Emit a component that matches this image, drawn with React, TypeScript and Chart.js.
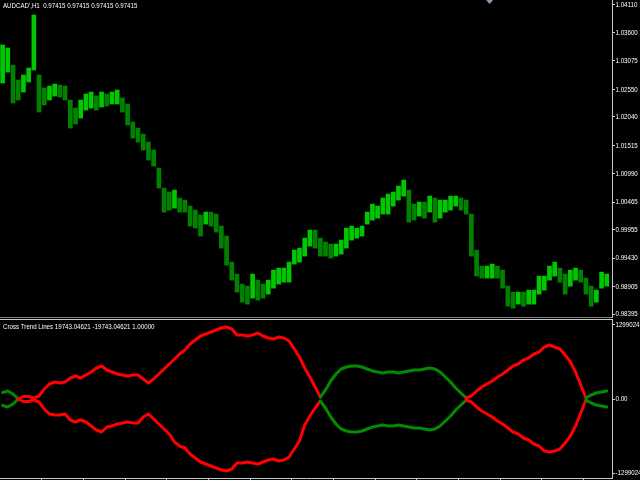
import React, { useEffect, useRef } from 'react';
import { Chart, registerables } from 'chart.js';

Chart.register(...registerables);

// ---------- data ----------
const symbolLabel = "AUDCAD',H1";
const lastQuote = ['0.97415', '0.97415', '0.97415', '0.97415'];
const indicatorName = 'Cross Trend Lines';
const indicatorReadout = ['19743.04621', '-19743.04621', '1.00000'];

// H1 bars (high / low), one per bar slot, left to right
const priceHigh = [
  1.0337, 1.03314, 1.02999, 1.02722, 1.02815, 1.02944, 1.03925, 1.02815, 1.02574, 1.02611,
  1.02648, 1.0263, 1.02611, 1.02352, 1.02204, 1.02352, 1.02463, 1.025, 1.02426, 1.025,
  1.02463, 1.025, 1.02537, 1.02389, 1.02278, 1.01945, 1.01834, 1.01723, 1.01575, 1.01427,
  1.01094, 1.00724, 1.0065, 1.00687, 1.00539, 1.00502, 1.00391, 1.00317, 1.00225, 1.0028,
  1.0028, 1.00243, 1.00021, 0.99836, 0.99355, 0.99133, 0.98948, 0.98911, 0.99133, 0.99022,
  0.98948, 0.99022, 0.99207, 0.99244, 0.99244, 0.99355, 0.99577, 0.99614, 0.99799, 0.99947,
  0.99947, 0.99799, 0.99725, 0.99688, 0.99688, 0.99762, 0.99984, 1.00021, 0.99984, 1.00021,
  1.0028, 1.00428, 1.00391, 1.00539, 1.00613, 1.0065, 1.00761, 1.00872, 1.00687, 1.00428,
  1.00465, 1.00465, 1.00576, 1.00539, 1.00502, 1.00502, 1.00576, 1.00576, 1.00539, 1.00502,
  1.00243, 0.99577, 0.99281, 0.99281, 0.99318, 0.99281, 0.99207, 0.98911, 0.988, 0.988,
  0.988, 0.98837, 0.98837, 0.99096, 0.99096, 0.99281, 0.99355, 0.99244, 0.99133, 0.99207,
  0.99244, 0.99207, 0.99059, 0.98911, 0.98837, 0.9917, 0.99133,
];
const priceLow = [
  1.02667, 1.0287, 1.02297, 1.02352, 1.025, 1.02685, 1.02907, 1.0213, 1.0226, 1.02352,
  1.02426, 1.02408, 1.02352, 1.01834, 1.01908, 1.02019, 1.02167, 1.02204, 1.02167, 1.02223,
  1.02241, 1.02278, 1.02278, 1.0213, 1.0189, 1.01649, 1.01575, 1.01427, 1.01242, 1.01131,
  1.00724, 1.0028, 1.00317, 1.00354, 1.0028, 1.0028, 1.00021, 0.99984, 0.99836, 1.00058,
  1.00021, 0.9991, 0.99614, 0.993, 0.99022, 0.988, 0.98615, 0.98578, 0.98689, 0.98652,
  0.98689, 0.98763, 0.98874, 0.98948, 0.98985, 0.98985, 0.99318, 0.99355, 0.99466, 0.99651,
  0.99614, 0.99466, 0.99466, 0.99429, 0.99466, 0.99503, 0.99614, 0.99762, 0.99799, 0.99836,
  1.00058, 1.00132, 1.00169, 1.00243, 1.00243, 1.00391, 1.00502, 1.00576, 1.00095, 1.00132,
  1.00206, 1.00169, 1.0028, 1.00095, 1.00169, 1.0028, 1.00317, 1.00391, 1.00317, 1.00243,
  0.99466, 0.99096, 0.99059, 0.99059, 0.99059, 0.99059, 0.98874, 0.98541, 0.98504, 0.98578,
  0.98541, 0.98578, 0.98578, 0.98763, 0.98837, 0.99022, 0.99096, 0.98985, 0.98763, 0.98911,
  0.99022, 0.98985, 0.98763, 0.98541, 0.98615, 0.98874, 0.98911,
];
const priceTicks = [
  1.0411, 1.036, 1.03075, 1.0255, 1.0204, 1.01515, 1.0099, 1.00465, 0.99955, 0.9943, 0.98905, 0.98395,
];
const priceMin = 0.9834;
const priceMax = 1.04202;

// Cross Trend Lines indicator, one value per bar
const crossUpper = [
  114000, 140000, 88000, 0, 44000, 44000, 18000, 53000, 176000, 263000,
  298000, 281000, 298000, 369000, 404000, 369000, 421000, 474000, 544000, 579000,
  509000, 474000, 439000, 421000, 404000, 421000, 421000, 351000, 281000, 351000,
  439000, 527000, 614000, 702000, 790000, 860000, 965000, 1036000, 1106000, 1141000,
  1176000, 1211000, 1246000, 1264000, 1229000, 1123000, 1123000, 1106000, 1123000, 1159000,
  1106000, 1071000, 1053000, 1088000, 1071000, 1018000, 878000, 737000, 544000, 386000,
  211000, 35000, 158000, 316000, 439000, 527000, 562000, 579000, 579000, 562000,
  527000, 492000, 474000, 456000, 474000, 474000, 456000, 474000, 492000, 509000,
  509000, 527000, 544000, 527000, 474000, 386000, 298000, 193000, 105000, 18000,
  53000, 140000, 211000, 263000, 316000, 386000, 439000, 509000, 579000, 614000,
  685000, 720000, 790000, 825000, 913000, 948000, 913000, 878000, 772000, 650000,
  474000, 246000, 18000, 70000, 105000, 123000, 140000,
];
const crossLower = [
  -114000, -140000, -88000, 0, -44000, -44000, -18000, -53000, -176000, -263000,
  -281000, -281000, -263000, -369000, -404000, -369000, -404000, -474000, -544000, -579000,
  -492000, -474000, -439000, -421000, -404000, -421000, -421000, -316000, -263000, -351000,
  -439000, -527000, -614000, -755000, -825000, -860000, -965000, -1036000, -1106000, -1141000,
  -1176000, -1211000, -1246000, -1264000, -1229000, -1123000, -1123000, -1106000, -1123000, -1141000,
  -1106000, -1071000, -1053000, -1088000, -1071000, -1018000, -878000, -737000, -456000, -298000,
  -158000, -35000, -158000, -316000, -439000, -527000, -562000, -579000, -579000, -562000,
  -527000, -492000, -474000, -456000, -474000, -474000, -456000, -474000, -492000, -509000,
  -509000, -527000, -544000, -527000, -474000, -386000, -298000, -193000, -105000, -18000,
  -53000, -140000, -211000, -263000, -316000, -386000, -439000, -509000, -579000, -614000,
  -685000, -720000, -790000, -825000, -913000, -930000, -913000, -878000, -772000, -650000,
  -474000, -246000, -18000, -70000, -105000, -123000, -140000,
];
const trendStart = [0, 3, 61, 89, 112];
const trendSide = ['green', 'red', 'green', 'red', 'green'];
const indicatorTicks = [1299024, 0, -1299024];
const indicatorMin = -1386766;
const indicatorMax = 1404320;
const timeTicks = [8, 16, 24, 32, 40, 48, 56, 64, 72, 80, 88, 96, 104, 112];
const barSlots = 117.5;

// ---------- styles ----------
const FONT = '"Liberation Sans", Arial, sans-serif';
const FONT_SIZE = 8;
const NARROW = 0.77;
const AXIS = '#c8c8c8';
const TEXT = '#ffffff';
const UP = '#00c800';
const DOWN = '#008200';
const RED = '#ff0000';
const GREEN = '#008c00';

function trendColor(i: number) {
  let side = trendSide[0];
  for (let k = 0; k < trendStart.length; k++) if (i >= trendStart[k]) side = trendSide[k];
  return side === 'red' ? RED : GREEN;
}

function narrowText(ctx: CanvasRenderingContext2D, text: string, x: number, y: number) {
  ctx.save();
  ctx.translate(x, y);
  ctx.scale(NARROW, 1);
  ctx.fillText(text, 0, 0);
  ctx.restore();
}

function drawAxisLabels(chart: any, digits: number) {
  const { ctx, chartArea } = chart;
  const s = chart.scales.y;
  ctx.save();
  ctx.font = `${FONT_SIZE}px ${FONT}`;
  ctx.fillStyle = TEXT;
  ctx.textBaseline = 'middle';
  ctx.textAlign = 'left';
  for (const t of s.ticks) {
    const y = s.getPixelForValue(t.value);
    narrowText(ctx, Number(t.value).toFixed(digits), chartArea.right + 3.5, y);
  }
  ctx.restore();
}

export default function App() {
  const topRef = useRef<HTMLCanvasElement>(null);
  const botRef = useRef<HTMLCanvasElement>(null);

  useEffect(() => {
    document.body.style.margin = '0';
    document.body.style.background = '#000';

    const barColors = priceHigh.map((h, i) => {
      if (i === 0) return UP;
      const mid = (h + priceLow[i]) / 2;
      const prev = (priceHigh[i - 1] + priceLow[i - 1]) / 2;
      return mid >= prev ? UP : DOWN;
    });

    const topPlugin = {
      id: 'topDecor',
      afterDraw(chart: any) {
        const { ctx, chartArea } = chart;
        drawAxisLabels(chart, 5);
        ctx.save();
        ctx.font = `${FONT_SIZE}px ${FONT}`;
        ctx.fillStyle = TEXT;
        ctx.textBaseline = 'middle';
        ctx.textAlign = 'left';
        narrowText(ctx, `${symbolLabel}  ${lastQuote.join(' ')}`, 3, 6);
        // chart shift marker
        const mx = chartArea.left + chartArea.width * 0.8;
        ctx.fillStyle = '#8a9bb5';
        ctx.beginPath();
        ctx.moveTo(mx - 3.5, 0);
        ctx.lineTo(mx + 3.5, 0);
        ctx.lineTo(mx, 4);
        ctx.closePath();
        ctx.fill();
        ctx.restore();
      },
    };

    const botPlugin = {
      id: 'botDecor',
      afterDraw(chart: any) {
        const { ctx, chartArea } = chart;
        drawAxisLabels(chart, 2);
        ctx.save();
        ctx.strokeStyle = AXIS;
        ctx.lineWidth = 1;
        ctx.beginPath();
        ctx.moveTo(0, chartArea.top + 0.5);
        ctx.lineTo(chartArea.right, chartArea.top + 0.5);
        ctx.stroke();
        ctx.font = `${FONT_SIZE}px ${FONT}`;
        ctx.fillStyle = TEXT;
        ctx.textBaseline = 'middle';
        ctx.textAlign = 'left';
        narrowText(ctx, `${indicatorName} ${indicatorReadout.join(' ')}`, 3, chartArea.top + 8);
        ctx.restore();
      },
    };

    const c1 = new Chart(topRef.current as HTMLCanvasElement, {
      type: 'bar',
      data: {
        datasets: [
          {
            data: priceHigh.map((h, i) => ({ x: i + 0.5, y: [priceLow[i], h] })) as any,
            backgroundColor: barColors,
            borderWidth: 0,
            barThickness: 4,
          },
        ],
      },
      options: {
        animation: false,
        responsive: false,
        maintainAspectRatio: false,
        devicePixelRatio: 1,
        layout: { padding: 0 },
        plugins: { legend: { display: false }, tooltip: { enabled: false } },
        scales: {
          x: {
            type: 'linear',
            min: 0,
            max: barSlots,
            offset: false,
            grid: { display: true, drawOnChartArea: false, drawTicks: false, color: '#808080' },
            border: { display: true, color: '#808080' },
            ticks: { display: false },
            afterFit: (s: any) => {
              s.height = 1;
              s.paddingLeft = 0;
              s.paddingRight = 0;
            },
          },
          y: {
            position: 'right',
            min: priceMin,
            max: priceMax,
            grid: { drawOnChartArea: false, drawTicks: true, tickLength: 3, color: AXIS },
            border: { display: true, color: AXIS },
            ticks: { display: false },
            afterBuildTicks: (s: any) => {
              s.ticks = priceTicks.map((v) => ({ value: v }));
            },
            afterFit: (s: any) => {
              s.width = 28;
              s.paddingTop = 0;
              s.paddingBottom = 0;
            },
          },
        },
      } as any,
      plugins: [topPlugin],
    });

    const c2 = new Chart(botRef.current as HTMLCanvasElement, {
      type: 'line',
      data: {
        datasets: [
          {
            data: crossUpper.map((v, i) => ({ x: i + 0.5, y: v })),
            borderWidth: 3,
            pointRadius: 0,
            borderColor: RED,
            segment: { borderColor: (ctx: any) => trendColor(ctx.p0DataIndex) },
            tension: 0,
            borderCapStyle: 'round',
            borderJoinStyle: 'round',
          },
          {
            data: crossLower.map((v, i) => ({ x: i + 0.5, y: v })),
            borderWidth: 3,
            pointRadius: 0,
            borderColor: RED,
            segment: { borderColor: (ctx: any) => trendColor(ctx.p0DataIndex) },
            tension: 0,
            borderCapStyle: 'round',
            borderJoinStyle: 'round',
          },
        ],
      },
      options: {
        animation: false,
        responsive: false,
        maintainAspectRatio: false,
        devicePixelRatio: 1,
        layout: { padding: { top: 1, left: 0, right: 0, bottom: 0 } },
        plugins: { legend: { display: false }, tooltip: { enabled: false } },
        scales: {
          x: {
            type: 'linear',
            min: 0,
            max: barSlots,
            grid: { drawOnChartArea: false, drawTicks: true, tickLength: 2, color: AXIS },
            border: { display: true, color: AXIS },
            ticks: { display: false },
            afterBuildTicks: (s: any) => {
              s.ticks = timeTicks.map((v) => ({ value: v }));
            },
            afterFit: (s: any) => {
              s.height = 2;
              s.paddingLeft = 0;
              s.paddingRight = 0;
            },
          },
          y: {
            position: 'right',
            min: indicatorMin,
            max: indicatorMax,
            grid: { drawOnChartArea: false, drawTicks: true, tickLength: 3, color: AXIS },
            border: { display: true, color: AXIS },
            ticks: { display: false },
            afterBuildTicks: (s: any) => {
              s.ticks = indicatorTicks.map((v) => ({ value: v }));
            },
            afterFit: (s: any) => {
              s.width = 28;
              s.paddingTop = 0;
              s.paddingBottom = 0;
            },
          },
        },
      } as any,
      plugins: [botPlugin],
    });

    return () => {
      c1.destroy();
      c2.destroy();
    };
  }, []);

  return (
    <div style={{ width: 640, height: 480, background: '#000', overflow: 'hidden' }}>
      <canvas ref={topRef} width={640} height={318} style={{ display: 'block' }} />
      <canvas ref={botRef} width={640} height={162} style={{ display: 'block' }} />
    </div>
  );
}
